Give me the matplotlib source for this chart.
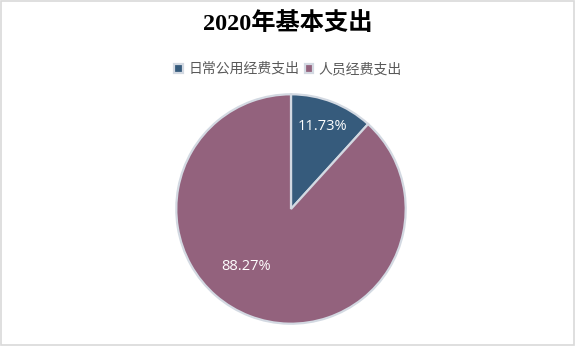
import matplotlib.pyplot as plt
from matplotlib.patches import Rectangle

# data
categories = ["日常公用经费支出", "人员经费支出"]
shares = [11.73, 88.27]
colors = ["#365b7c", "#93627d"]
title = "2020年基本支出"

plt.rcParams["font.family"] = ["Noto Sans CJK SC", "DejaVu Sans"]

fig = plt.figure(figsize=(5.76, 3.56), dpi=100)
fig.patch.set_facecolor("white")
fig.patches.append(Rectangle((1 / 576, 11 / 356), 573 / 576, 344 / 356,
                             transform=fig.transFigure, fill=False,
                             edgecolor="#d9d9d9", linewidth=1.2))

# pie centre ~ (291, 209) px, radius ~117 px
ax = fig.add_axes([174 / 576, 30 / 356, 234 / 576, 234 / 356])
wedges, texts, autotexts = ax.pie(
    shares, colors=colors, startangle=90, counterclock=False,
    autopct="%.2f%%", pctdistance=0.77,
    wedgeprops=dict(edgecolor="#d3d9e2", linewidth=1.6),
    textprops=dict(color="white", fontsize=10.5, family=["Open Sans", "DejaVu Sans"]),
)
# second label sits off the slice middle in the original
autotexts[1].set_position((-0.39, -0.50))
ax.set_xlim(-1.02, 1.02)
ax.set_ylim(-1.02, 1.02)
ax.set_aspect("equal")
ax.axis("off")

fig.text(0.5, 1 - 24 / 356, title, ha="center", va="center", fontsize=17.5,
         fontweight="bold", family=["Liberation Serif", "Noto Sans CJK SC"])

fig.legend(wedges, categories, loc="center", bbox_to_anchor=(0.5, 1 - 69 / 356),
           ncol=2, frameon=False, fontsize=10, handlelength=0.6, handleheight=0.6,
           handletextpad=0.4, columnspacing=0.4, labelcolor="#595959")

fig.savefig("out.png", dpi=100)
